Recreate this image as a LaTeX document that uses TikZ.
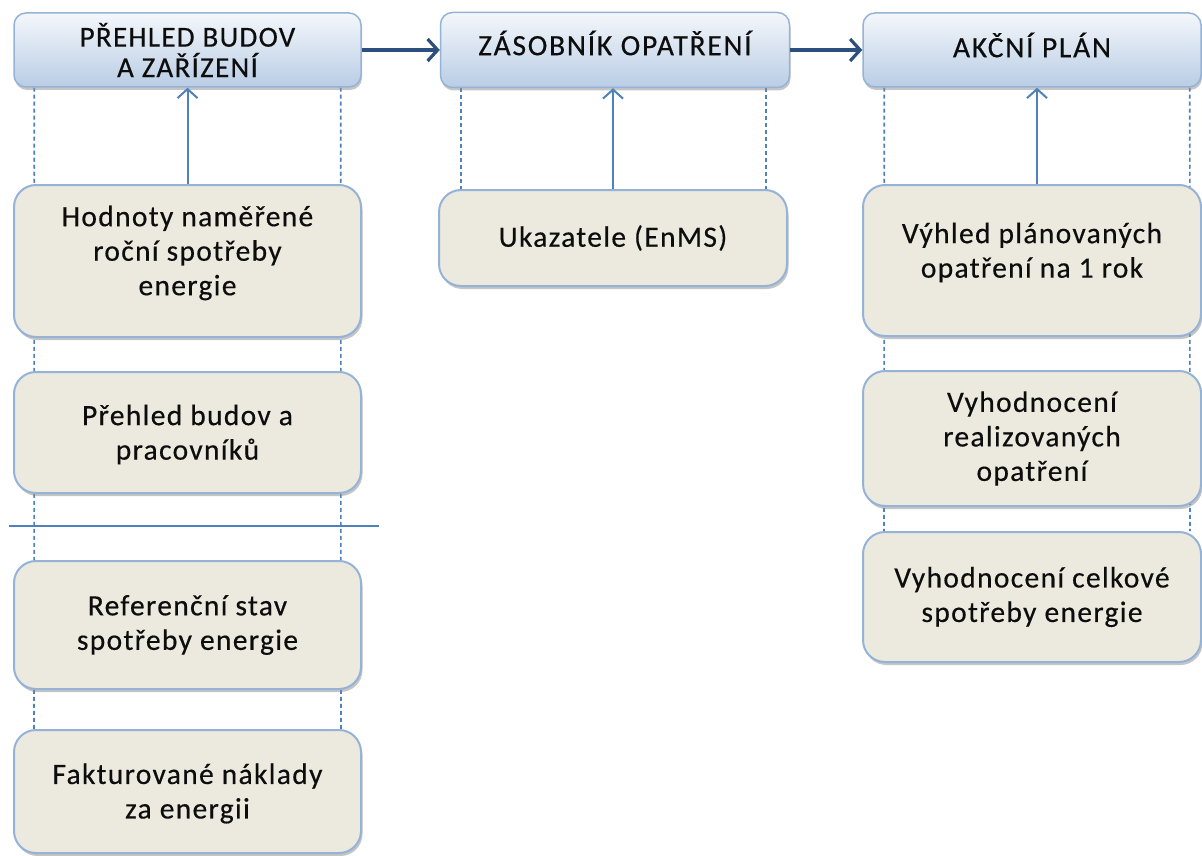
\documentclass[tikz,border=0pt]{standalone}
\usepackage{fontspec}
\setmainfont{Carlito}
\newfontfamily\bodyface[LetterSpace=4.5,FakeBold=0.4]{Carlito}
\newfontfamily\headface[LetterSpace=6,FakeBold=0.4]{Carlito}
\usetikzlibrary{arrows.meta,shadows,calc}
\definecolor{hdtop}{HTML}{F4F7FB}
\definecolor{hdbot}{HTML}{B9CDE5}
\definecolor{hdline}{HTML}{95B3D7}
\definecolor{bodyfill}{HTML}{ECE9DF}
\definecolor{bodyline}{HTML}{95B3D7}
\definecolor{flowblue}{HTML}{2C4F7E}
\definecolor{linkblue}{HTML}{4F81BD}
\pgfdeclarelayer{bg}
\pgfsetlayers{bg,main}
\tikzset{
  header/.style={rectangle, rounded corners=12pt, draw=hdline, line width=1.5pt,
    top color=hdtop, bottom color=hdbot, inner sep=0pt,
    drop shadow={shadow xshift=1pt, shadow yshift=-3pt, fill=black!45, opacity=.5}},
  bodybox/.style={rectangle, rounded corners=22pt, draw=bodyline, line width=2pt,
    fill=bodyfill, inner sep=0pt, minimum width=347pt,
    drop shadow={shadow xshift=1.5pt, shadow yshift=-3pt, fill=black!45, opacity=.5}},
  txt/.style={align=center, font=\bodyface\fontsize{29.5}{34.5}\selectfont, text=black!95, inner sep=0pt},
  htxt/.style={align=center, font=\headface\fontsize{29.5}{30.5}\selectfont, text=black!95, inner sep=0pt},
  flow/.style={draw=flowblue, line width=3.2pt, -{Straight Barb[length=10pt,width=22pt,line width=3.2pt]}},
  feed/.style={draw=linkblue, line width=2pt, -{Straight Barb[length=9pt,width=20pt,line width=2pt]}},
  guide/.style={draw=linkblue, line width=1.6pt, dash pattern=on 4pt off 3pt},
  divider/.style={draw=linkblue, line width=1.4pt},
}
\begin{document}
\begin{tikzpicture}[x=1pt,y=-1pt]
\useasboundingbox (0,0) rectangle (1202,856);
\clip (0,0) rectangle (1202,856);

% column headers
\node[header, minimum width=347pt, minimum height=74pt] (h1) at (187.5,50) {};
\node[htxt, font=\bodyface\fontsize{29}{30.5}\selectfont] at (h1.center) {PŘEHLED BUDOV\\A ZAŘÍZENÍ};
\node[header, minimum width=349pt, minimum height=75pt] (h2) at (615,50) {};
\node[htxt] at ([yshift=7pt]h2.center) {ZÁSOBNÍK OPATŘENÍ};
\node[header, minimum width=338pt, minimum height=74pt] (h3) at (1032,50) {};
\node[htxt] at ([yshift=5pt]h3.center) {AKČNÍ PLÁN};

% left column
\node[bodybox, minimum height=152pt] (b1) at (187.5,261) {};
\node[txt] (b1t) at ([yshift=8pt]b1.center) {Hodnoty naměřené\\roční spotřeby\\energie};
\node[bodybox, minimum height=121pt] (b2) at (187.5,432.5) {};
\node[txt] (b2t) at ([yshift=-2pt]b2.center) {Přehled budov a\\pracovníků};
\node[bodybox, minimum height=128pt] (b3) at (187.5,625) {};
\node[txt] (b3t) at (b3.center) {Referenční stav\\spotřeby energie};
\node[bodybox, minimum height=123pt] (b4) at (187.5,791.5) {};
\node[txt] (b4t) at ([yshift=-2pt]b4.center) {Fakturované náklady\\za energii};

% middle column
\node[bodybox, minimum width=348pt, minimum height=96pt] (b5) at (613,238) {};
\node[txt] (b5t) at (b5.center) {Ukazatele (EnMS)};

% right column
\node[bodybox, minimum width=338pt, minimum height=151pt] (r1) at (1032,260.5) {};
\node[txt] (r1t) at ([yshift=8pt]r1.center) {Výhled plánovaných\\opatření na 1 rok};
\node[bodybox, minimum width=338pt, minimum height=135pt] (r2) at (1032,438.5) {};
\node[txt] (r2t) at (r2.center) {Vyhodnocení\\realizovaných\\opatření};
\node[bodybox, minimum width=338pt, minimum height=130pt] (r3) at (1032,597) {};
\node[txt] (r3t) at (r3.center) {Vyhodnocení celkové\\spotřeby energie};

% dashed guide lines behind the boxes
\begin{pgfonlayer}{bg}
  \fill[white] (0,0) rectangle (1202,856);
  \draw[guide] ([xshift=21pt]h1.south west) -- ([xshift=21pt]b4.north west);
  \draw[guide] ([xshift=-21pt]h1.south east) -- ([xshift=-21pt]b4.north east);
  \draw[guide] ([xshift=21pt]h2.south west) -- ([xshift=21pt]h2.south west |- b5.north);
  \draw[guide] ([xshift=-24pt]h2.south east) -- ([xshift=-24pt]h2.south east |- b5.north);
  \draw[guide] ([xshift=22pt]h3.south west) -- ([xshift=22pt]r3.north west);
  \draw[guide] ([xshift=-12pt]h3.south east) -- ([xshift=-12pt]r3.north east);
\end{pgfonlayer}

% divider between the groups of the left column
\coordinate (dl) at (9,526);
\coordinate (dr) at (379,526);
\draw[divider] (dl) -- (dr);

% flow between the headers
\draw[flow] (h1.east) -- (h2.west);
\draw[flow] (h2.east) -- (h3.west);

% inputs feeding the headers
\draw[feed] (b1.north) -- (h1.south);
\draw[feed] (b5.north) -- (b5.north |- h2.south);
\draw[feed] ([xshift=5pt]r1.north) -- ([xshift=5pt]h3.south);
\end{tikzpicture}
\end{document}
